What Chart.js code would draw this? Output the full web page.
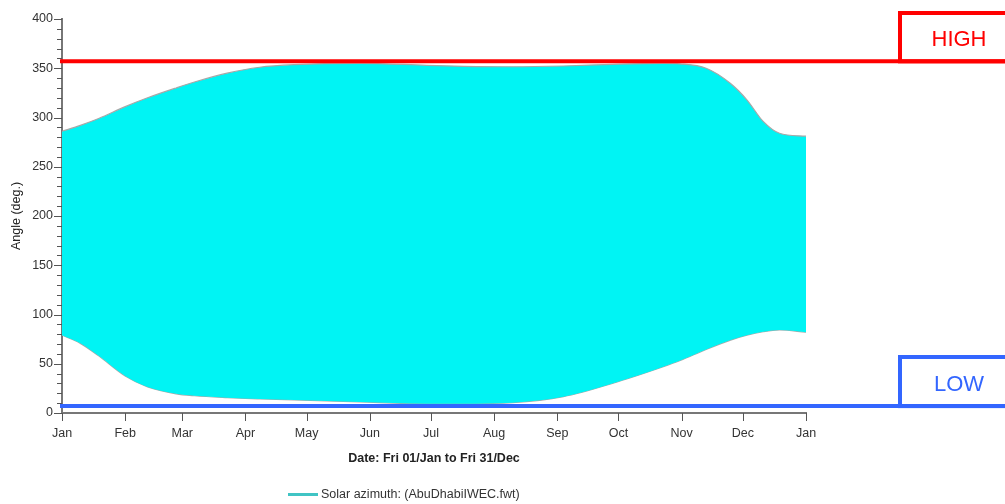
<!DOCTYPE html>
<html>
<head>
<meta charset="utf-8">
<script src="https://cdn.jsdelivr.net/npm/chart.js@4/dist/chart.umd.min.js"></script>
<style>
  body { margin: 0; background: #fff; font-family: "Liberation Sans", Arial, sans-serif; }
  #wrap { position: relative; width: 1005px; height: 504px; }
  #legend { position: absolute; left: 288px; top: 487px; font-size: 12.5px; color: #333; display: flex; align-items: center; }
  #legend span.swatch { display: inline-block; width: 30px; height: 3px; background: #40c4c4; margin-right: 3px; }
</style>
</head>
<body>
<div id="wrap">
  <canvas id="chart"></canvas>
  <div id="legend"><span class="swatch"></span>Solar azimuth: (AbuDhabiIWEC.fwt)</div>
</div>
<script>
// day of year, upper and lower envelope of the azimuth band (deg)
const days = [0, 9, 18, 31, 42, 56, 65, 81, 97, 114, 146, 179, 197, 221, 246, 270, 295, 303, 316, 328, 336, 344, 352, 365];
const upperDeg = [286, 292, 299, 311, 320, 330, 336, 345, 351, 353.6, 355, 353, 352, 351.5, 352.3, 354, 355, 354.5, 350, 334.5, 318, 296, 284, 281];
const lowerDeg = [79, 70.7, 58, 37.5, 26.5, 19.5, 17.5, 15.6, 14.3, 13.2, 11.2, 9.5, 9.5, 10.5, 16.6, 30, 47, 53, 64.5, 74, 79, 82.5, 84.3, 82];

const monthDays = [0, 31, 59, 90, 120, 151, 181, 212, 243, 273, 304, 334, 365];
const monthLabels = ['Jan', 'Feb', 'Mar', 'Apr', 'May', 'Jun', 'Jul', 'Aug', 'Sep', 'Oct', 'Nov', 'Dec', 'Jan'];

const highValue = 357;
const lowValue = 7;

const FONT = '"Liberation Sans", Arial, sans-serif';

const refLines = {
  id: 'refLines',
  afterDraw(chart) {
    const ctx = chart.ctx;
    const y = chart.scales.y, x = chart.scales.x;
    const area = chart.chartArea;
    ctx.save();
    // tick marks
    ctx.strokeStyle = '#555';
    ctx.lineWidth = 1;
    y.ticks.forEach(t => {
      const py = Math.round(y.getPixelForValue(t.value)) + 0.5;
      const len = t.value % 50 === 0 ? 8 : 5;
      ctx.beginPath();
      ctx.moveTo(area.left - len, py);
      ctx.lineTo(area.left, py);
      ctx.stroke();
    });
    x.ticks.forEach(t => {
      const px = Math.round(x.getPixelForValue(t.value)) + 0.5;
      ctx.beginPath();
      ctx.moveTo(px, area.bottom);
      ctx.lineTo(px, area.bottom + 8);
      ctx.stroke();
    });
    // HIGH / LOW lines and boxes
    const draw = (val, color, label, boxTop) => {
      const py = y.getPixelForValue(val);
      ctx.strokeStyle = color;
      ctx.lineWidth = 4;
      ctx.beginPath();
      ctx.moveTo(area.left - 2, py);
      ctx.lineTo(chart.width + 5, py);
      ctx.stroke();
      ctx.strokeRect(900, boxTop, 120, py - boxTop);
      ctx.fillStyle = color;
      ctx.font = '22px ' + FONT;
      ctx.textAlign = 'center';
      ctx.textBaseline = 'middle';
      ctx.fillText(label, 959, (boxTop + py) / 2 + 3);
    };
    draw(highValue, '#ff0000', 'HIGH', 13);
    draw(lowValue, '#3366ff', 'LOW', 357);
    ctx.restore();
  }
};

new Chart(document.getElementById('chart'), {
  type: 'line',
  data: {
    datasets: [
      {
        label: 'upper',
        data: days.map((d, i) => ({ x: d, y: upperDeg[i] })),
        borderColor: '#a8a8a8',
        borderWidth: 1.2,
        backgroundColor: '#00f4f4',
        fill: '+1',
        pointRadius: 0,
        tension: 0.4,
        cubicInterpolationMode: 'monotone'
      },
      {
        label: 'lower',
        data: days.map((d, i) => ({ x: d, y: lowerDeg[i] })),
        borderColor: '#a8a8a8',
        borderWidth: 1.2,
        fill: false,
        pointRadius: 0,
        tension: 0.4,
        cubicInterpolationMode: 'monotone'
      }
    ]
  },
  options: {
    responsive: true,
    maintainAspectRatio: false,
    animation: false,
    layout: { padding: { top: 19, right: 199, bottom: 38, left: 0 } },
    plugins: {
      legend: { display: false },
      tooltip: { enabled: false }
    },
    scales: {
      x: {
        type: 'linear',
        min: 0,
        max: 365,
        afterBuildTicks: s => { s.ticks = monthDays.map(v => ({ value: v })); },
        afterFit: s => { s.height = 53; },
        grid: { display: false, drawTicks: false },
        border: { display: true, color: '#777', width: 2 },
        ticks: {
          autoSkip: false,
          maxRotation: 0,
          padding: 13,
          color: '#333',
          font: { family: FONT, size: 12.5 },
          callback: v => monthLabels[monthDays.indexOf(v)]
        },
        title: {
          display: true,
          text: 'Date: Fri 01/Jan to Fri 31/Dec',
          color: '#222',
          font: { family: FONT, size: 12.5, weight: 'bold' },
          padding: { top: 0, bottom: 0 }
        }
      },
      y: {
        min: 0,
        max: 400,
        afterFit: s => { s.width = 62; },
        grid: { display: false, drawTicks: false },
        border: { display: true, color: '#777', width: 2 },
        ticks: {
          stepSize: 10,
          autoSkip: false,
          padding: 9,
          color: '#333',
          font: { family: FONT, size: 12.5 },
          callback: v => (v % 50 === 0 ? v : '')
        },
        title: {
          display: true,
          text: 'Angle (deg.)',
          color: '#222',
          font: { family: FONT, size: 12.5 },
          padding: { top: 9, bottom: 0 }
        }
      }
    }
  },
  plugins: [refLines]
});
</script>
</body>
</html>
